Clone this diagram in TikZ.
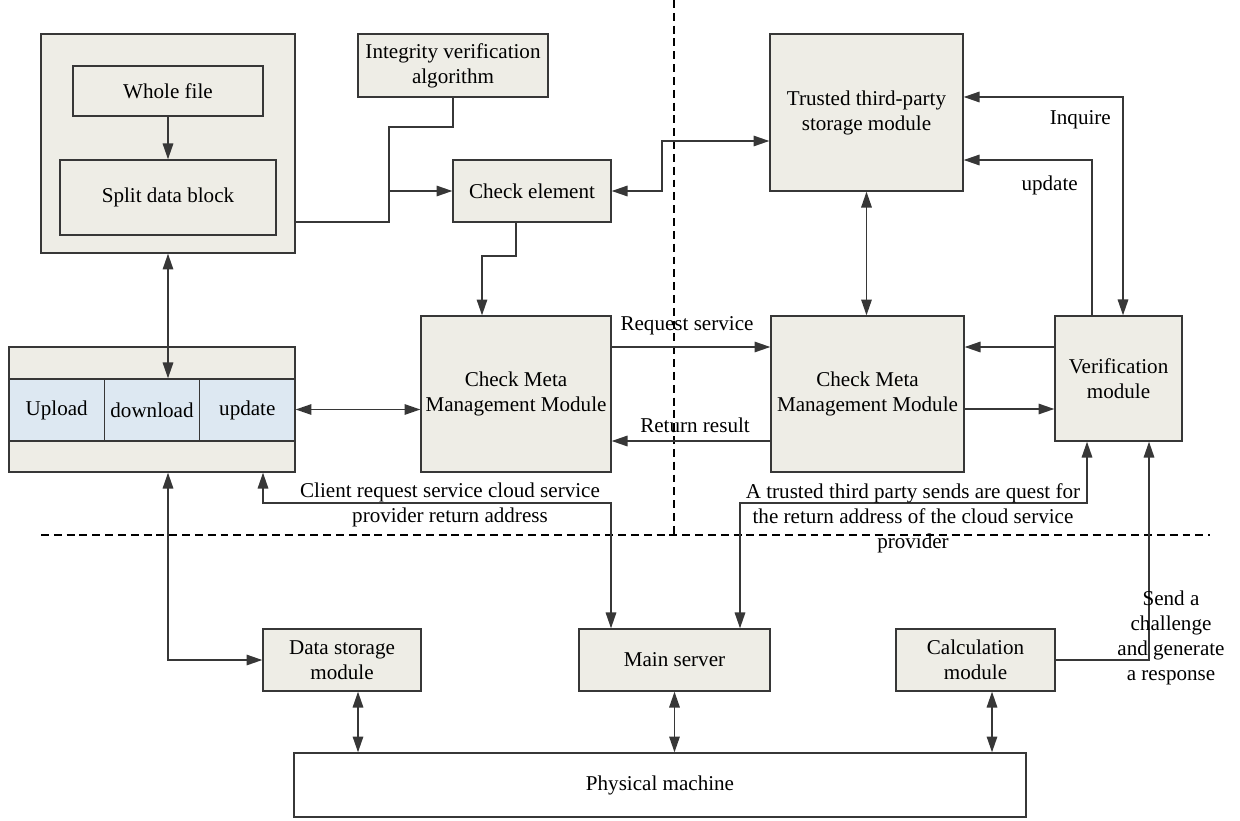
\documentclass[tikz,border=0pt]{standalone}
\usepackage{fontspec}
\setmainfont{Liberation Serif}
\usetikzlibrary{arrows.meta}
\definecolor{boxfill}{RGB}{238,237,230}
\definecolor{cellfill}{RGB}{221,232,242}
\definecolor{linegray}{RGB}{55,55,55}
\tikzset{
  box/.style={draw=linegray, fill=boxfill, line width=0.8pt, inner sep=1pt, align=center},
  cell/.style={box, fill=cellfill, minimum width=1.9067cm, minimum height=1.24cm},
  link/.style={draw=linegray, line width=0.8pt},
  arr/.style={link, -{Triangle[length=9pt,width=6pt]}},
  twoway/.style={link, {Triangle[length=9pt,width=6pt]}-{Triangle[length=9pt,width=6pt]}},
  sep/.style={draw=black, line width=0.6pt, dash pattern=on 4.5pt off 2.8pt},
  lbl/.style={align=center}
}
\begin{document}
\begin{tikzpicture}[x=0.02cm, y=-0.02cm, font=\fontsize{12}{14.2}\selectfont]
\useasboundingbox (0,0) rectangle (1240,821);
\draw[sep] (674,0) -- (674,534);
\draw[sep] (41,535) -- (1210,535);

\node[box, minimum width=5.08cm, minimum height=4.38cm] (client) at (168,143.5) {};
\node[box, minimum width=3.8cm, minimum height=1cm] (whole) at (168,91) {Whole file};
\node[box, minimum width=4.32cm, minimum height=1.5cm] (split) at (168,197.5) {Split data block};
\node[box, minimum width=3.8cm, minimum height=1.26cm] (integ) at (453,65.5) {Integrity verification\\algorithm};
\node[box, minimum width=3.16cm, minimum height=1.24cm] (check) at (532,191) {Check element};
\node[box, minimum width=3.86cm, minimum height=3.14cm] (trusted) at (866.5,112.5) {Trusted third-party\\storage module};
\node[box, minimum width=3.8cm, minimum height=3.12cm] (cmmA) at (516,394) {Check Meta\\Management Module};
\node[box, minimum width=3.86cm, minimum height=3.12cm] (cmmB) at (867.5,394) {Check Meta\\Management Module};
\node[box, minimum width=2.54cm, minimum height=2.5cm] (verif) at (1118.5,378.5) {Verification\\module};
\node[box, minimum width=5.72cm, minimum height=2.5cm] (ops) at (152,409.5) {};
\node[cell] (upload) at (56.67,410) {Upload};
\node[cell] (download) at (152,410) {download};
\node[cell] (update) at (247.33,410) {update};
\node[box, minimum width=3.16cm, minimum height=1.24cm] (store) at (342,660) {Data storage\\module};
\node[box, minimum width=3.82cm, minimum height=1.24cm] (server) at (674.5,660) {Main server};
\node[box, minimum width=3.18cm, minimum height=1.24cm] (calc) at (975.5,660) {Calculation\\module};
\node[box, fill=white, minimum width=14.64cm, minimum height=1.28cm] (phys) at (660,785) {Physical machine};

\coordinate (jn) at (389,191);
\draw[arr] (whole) -- (split);
\draw[twoway] (client.south) -- (client.south |- download.north);
\draw[link] (client.east |- 0,222) -| (389,127) -| (integ.south);
\draw[arr] (jn) -- (check.west);
\draw[arr] (check.south -| 516,0) |- (482,256) -- (482,0 |- cmmA.north);
\draw[twoway] (check.east) -| (662,141) -- (trusted.west |- 0,141);
\draw[twoway] (trusted.south) -- (trusted.south |- cmmB.north);
\draw[twoway] (trusted.east |- 0,97) -| (verif.north -| 1123,0);
\draw[arr] (verif.north -| 1092,0) |- (trusted.east |- 0,160);
\draw[arr] (cmmA.east |- 0,347) -- (cmmB.west |- 0,347);
\draw[arr] (cmmB.west |- 0,441) -- (cmmA.east |- 0,441);
\draw[arr] (verif.west |- 0,347) -- (cmmB.east |- 0,347);
\draw[arr] (cmmB.east |- 0,409) -- (verif.west |- 0,409);
\draw[twoway] (ops.east) -- (cmmA.west |- ops.east);
\draw[twoway] (ops.south -| 263,0) |- (611,503) -- (611,0 |- server.north);
\draw[twoway] (verif.south -| 1087,0) |- (740,503) -- (740,0 |- server.north);
\draw[twoway] (ops.south -| 168,0) |- (store.west);
\draw[arr] (calc.east) -| (verif.south -| 1149,0);
\draw[twoway] (store.south -| 358,0) -- (358,0 |- phys.north);
\draw[twoway] (server.south) -- (server.south |- phys.north);
\draw[twoway] (calc.south -| 992,0) -- (992,0 |- phys.north);

\node[lbl, anchor=east] (inqlbl) at (1117,120) {Inquire};
\node[lbl, anchor=east] (updlbl) at (1084,185) {update};
\node[lbl] (reqlbl) at (687,326) {Request service};
\node[lbl] (retlbl) at (695,425) {Return result};
\node[lbl] (clientlbl) at (450,504.5) {Client request service cloud service\\provider return address};
\node[lbl] (tplbl) at (913,518) {A trusted third party sends are quest for\\the return address of the cloud service\\provider};
\node[lbl] (chlbl) at (1171,638) {Send a\\challenge\\and generate\\a response};
\end{tikzpicture}
\end{document}
